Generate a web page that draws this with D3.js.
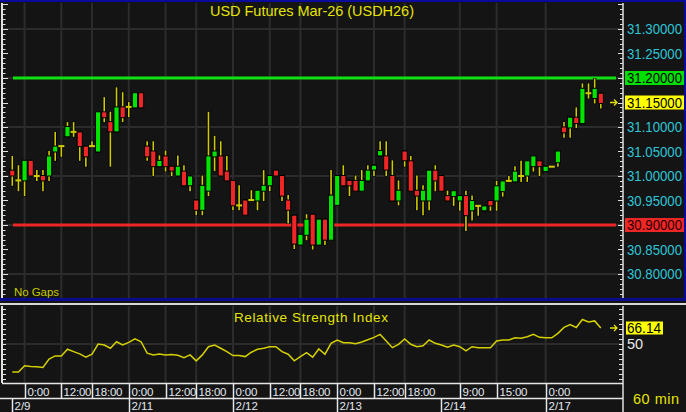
<!DOCTYPE html>
<html><head><meta charset="utf-8">
<script src="https://cdn.jsdelivr.net/npm/d3@7"></script>
<style>html,body{margin:0;padding:0;background:#151515;overflow:hidden}</style>
</head><body><svg id="c" width="686" height="412"></svg>
<script>
// ---------- DATA ----------
const opens =[31.012,30.991,30.990,31.032,31.000,31.001,31.000,31.049,31.061,31.080,31.090,31.090,31.061,31.061,31.049,31.131,31.111,31.090,31.141,31.141,31.139,31.170,31.061,31.051,31.019,31.041,31.020,31.000,31.010,30.980,30.951,30.930,30.969,31.039,31.041,31.010,30.991,30.940,30.951,30.951,30.949,30.969,30.980,31.012,31.001,30.951,30.920,30.859,30.879,30.922,30.859,30.912,30.869,30.940,31.001,30.991,30.991,30.969,30.990,31.012,31.041,31.041,31.001,30.949,31.051,31.031,30.971,30.949,30.949,31.012,31.001,30.960,30.958,30.949,30.960,30.929,30.939,30.929,30.950,30.949,30.968,30.990,30.988,31.000,31.000,31.019,31.031,31.009,31.019,31.027,31.100,31.098,31.120,31.107,31.169,31.158,31.169];
const highs =[31.041,31.022,31.032,31.032,31.012,31.012,31.051,31.090,31.061,31.110,31.110,31.090,31.061,31.071,31.131,31.161,31.131,31.181,31.171,31.151,31.170,31.170,31.071,31.071,31.042,31.052,31.020,31.042,31.022,31.000,30.951,31.001,31.131,31.082,31.071,31.041,30.991,30.981,30.951,30.971,30.971,31.012,31.001,31.012,31.001,30.961,30.920,30.881,30.922,30.922,30.912,30.912,31.012,31.001,31.022,30.991,31.001,31.012,31.022,31.022,31.071,31.071,31.032,30.991,31.051,31.041,31.001,30.981,31.012,31.022,31.001,30.970,30.970,30.960,30.970,30.960,30.939,30.939,30.950,30.990,30.990,31.000,31.020,31.031,31.031,31.041,31.031,31.020,31.019,31.051,31.110,31.120,31.140,31.189,31.189,31.199,31.169];
const lows  =[30.980,30.969,30.959,31.000,30.990,30.969,30.990,31.031,31.039,31.080,31.080,31.031,31.019,31.061,31.049,31.110,31.019,31.090,31.110,31.120,31.139,31.139,31.031,31.000,31.019,31.009,31.000,31.000,30.980,30.969,30.920,30.920,30.959,31.010,31.000,30.990,30.930,30.930,30.920,30.951,30.930,30.949,30.969,31.000,30.949,30.903,30.851,30.859,30.869,30.850,30.859,30.859,30.869,30.940,30.980,30.959,30.969,30.969,30.990,31.000,31.041,31.000,30.949,30.940,31.019,30.969,30.930,30.920,30.930,30.969,30.969,30.949,30.939,30.929,30.888,30.909,30.919,30.929,30.929,30.929,30.958,30.990,30.988,30.988,30.988,31.009,31.000,31.009,31.019,31.019,31.078,31.078,31.098,31.107,31.158,31.148,31.138];
const closes=[31.000,30.991,31.032,31.000,31.000,30.990,31.041,31.061,31.061,31.101,31.090,31.060,31.039,31.061,31.131,31.119,31.090,31.141,31.119,31.141,31.170,31.139,31.039,31.019,31.032,31.019,31.010,31.020,30.980,31.000,30.930,30.981,31.041,31.051,31.000,30.990,30.939,30.940,30.920,30.951,30.971,30.981,31.001,31.000,30.959,30.930,30.861,30.881,30.912,30.859,30.912,30.869,30.961,31.001,30.980,30.980,30.969,30.991,31.012,31.022,31.052,31.012,30.949,30.971,31.031,30.969,30.959,30.971,31.012,30.990,30.969,30.949,30.970,30.960,30.919,30.950,30.939,30.939,30.939,30.980,30.990,30.990,31.010,31.000,31.031,31.041,31.019,31.020,31.019,31.051,31.088,31.120,31.107,31.179,31.169,31.179,31.148];
const rsi   =[21.7,21.7,28.0,27.3,27.0,26.3,34.7,38.0,38.0,44.7,42.3,40.0,36.7,39.7,50.0,49.0,45.7,52.3,49.0,51.7,55.3,52.3,40.7,39.0,40.0,39.0,39.3,38.7,36.3,39.0,33.0,39.0,47.3,49.0,45.7,42.3,38.3,38.3,37.3,41.7,44.7,45.7,47.3,47.3,42.3,39.7,33.0,37.3,41.3,36.7,45.0,39.7,50.7,54.0,51.3,51.3,50.3,52.0,54.3,56.7,59.7,53.0,46.3,49.7,55.0,49.7,47.3,48.3,54.0,50.7,49.0,46.7,49.0,47.3,43.0,47.3,46.3,46.3,46.3,53.0,54.0,54.0,56.3,55.7,57.3,59.7,56.7,56.3,56.3,60.7,66.7,69.7,66.7,74.7,72.3,73.3,66.14];
const timeTickIdx   =[2,8,13,19,25,30,36,42,47,53,59,64,73,79,87];
const timeTickLabels=["0:00","12:00","18:00","0:00","12:00","18:00","0:00","12:00","18:00","0:00","12:00","18:00","9:00","15:00","0:00"];
const dateTickIdx   =[0,19,36,53,70,87];
const dateTickLabels=["2/9","2/11","2/12","2/13","2/14","2/17"];
const priceLabelTicks=[30.80,30.85,30.90,30.95,31.00,31.05,31.10,31.15,31.20,31.25,31.30];
const priceGridTicks =[30.80,30.90,31.00,31.10,31.20,31.30];
const resistanceLevel=31.20, supportLevel=30.90, lastPrice=31.15;
const rsiLabelTicks=[50], rsiLast=66.14;
const chartTitle="USD Futures Mar-26 (USDH26)";
const rsiTitle="Relative Strength Index";
const noteText="No Gaps", intervalText="60 min";

// ---------- LAYOUT ----------
const W=686,H=412;
const P={top:3,bottom:298,left:2,right:623};
const R={top:306,bottom:383};
const BG="#141414", GRID="#2c2c2c", WICK="#cfcb00", UP="#00e400", DN="#ee2626";
const svg=d3.select("#c");
svg.append("rect").attr("width",W).attr("height",H).attr("fill",BG);

const x=d3.scalePoint().domain(d3.range(closes.length)).range([12.3,600.8]);
const y=d3.scaleLinear().domain([supportLevel,resistanceLevel]).range([225,78]);
const yr=d3.scaleLinear().domain([50,rsiLast]).range([344,328]);
const fmt=d3.format(".5f");
const font="'Liberation Sans',Arial,sans-serif";

// frame
svg.append("rect").attr("x",0).attr("y",0).attr("width",W).attr("height",2).attr("fill","#0a0a9c");
svg.append("rect").attr("x",W-2).attr("y",0).attr("width",2).attr("height",300).attr("fill","#0a0a9c");
svg.append("rect").attr("x",0).attr("y",298).attr("width",W).attr("height",3).attr("fill","#0a0a8a");
svg.append("rect").attr("x",0).attr("y",303).attr("width",W).attr("height",2).attr("fill","#d8d8d8");

// grids price
const gP=svg.append("g");
gP.selectAll("line.h").data(priceGridTicks).join("line")
  .attr("x1",P.left).attr("x2",P.right).attr("y1",d=>y(d)).attr("y2",d=>y(d))
  .attr("stroke",GRID).attr("stroke-width",2);
gP.selectAll("line.v").data(timeTickIdx).join("line").attr("class","v")
  .attr("x1",d=>x(d)).attr("x2",d=>x(d)).attr("y1",P.top).attr("y2",P.bottom)
  .attr("stroke",GRID).attr("stroke-width",2);
// grids rsi
const gR=svg.append("g");
gR.selectAll("line.h").data(rsiLabelTicks).join("line")
  .attr("x1",P.left).attr("x2",P.right).attr("y1",d=>yr(d)).attr("y2",d=>yr(d))
  .attr("stroke",GRID).attr("stroke-width",2);
gR.selectAll("line.v").data(timeTickIdx).join("line").attr("class","v")
  .attr("x1",d=>x(d)).attr("x2",d=>x(d)).attr("y1",R.top).attr("y2",R.bottom)
  .attr("stroke",GRID).attr("stroke-width",2);

// level lines
svg.append("line").attr("x1",13).attr("x2",616).attr("y1",y(resistanceLevel)).attr("y2",y(resistanceLevel))
  .attr("stroke","#10e010").attr("stroke-width",3);
svg.append("line").attr("x1",13).attr("x2",616).attr("y1",y(supportLevel)).attr("y2",y(supportLevel))
  .attr("stroke","#ee2626").attr("stroke-width",3);

// candles
const idx=d3.range(closes.length);
const gC=svg.append("g");
gC.selectAll("line.wo").data(idx).join("line")
  .attr("x1",i=>x(i)).attr("x2",i=>x(i)).attr("y1",i=>y(highs[i])-0.5).attr("y2",i=>y(lows[i])+0.5)
  .attr("stroke","#000").attr("stroke-width",3.4);
gC.selectAll("line.w").data(idx).join("line").attr("class","w")
  .attr("x1",i=>x(i)).attr("x2",i=>x(i)).attr("y1",i=>y(highs[i])).attr("y2",i=>y(lows[i]))
  .attr("stroke",WICK).attr("stroke-width",1.6);
gC.selectAll("rect.b").data(idx).join("rect").attr("class","b")
  .attr("x",i=>x(i)-(opens[i]===closes[i]?3:2.6))
  .attr("width",i=>opens[i]===closes[i]?6:5.2)
  .attr("y",i=>opens[i]===closes[i]?y(opens[i])-1:y(Math.max(opens[i],closes[i])))
  .attr("height",i=>opens[i]===closes[i]?2:Math.max(2,Math.abs(y(opens[i])-y(closes[i]))))
  .attr("fill",i=>opens[i]===closes[i]?WICK:(closes[i]>opens[i]?UP:DN))
  .attr("stroke",i=>opens[i]===closes[i]?"none":"#000").attr("stroke-width",1);

// axes price: left & right
function ticksRange(a,b,s){const r=[];for(let v=a;v<=b+1e-9;v+=s)r.push(+v.toFixed(3));return r;}
const pMinor=ticksRange(30.76,31.35,0.01);
const isMajor=v=>Math.abs(Math.round(v*20)-v*20)<1e-6;
svg.append("line").attr("x1",2).attr("x2",2).attr("y1",P.top).attr("y2",P.bottom).attr("stroke","#e0e0e0").attr("stroke-width",2);
svg.append("g").selectAll("line").data(pMinor).join("line")
  .attr("x1",2).attr("x2",d=>isMajor(d)?8:5.5).attr("y1",d=>Math.round(y(d))+0.5).attr("y2",d=>Math.round(y(d))+0.5)
  .attr("stroke","#e0e0e0").attr("stroke-width",1);
svg.append("line").attr("x1",P.right).attr("x2",P.right).attr("y1",P.top).attr("y2",P.bottom).attr("stroke","#e0e0e0").attr("stroke-width",1.5);
svg.append("g").selectAll("line").data(pMinor).join("line")
  .attr("x1",d=>isMajor(d)?P.right-5:P.right-3).attr("x2",P.right).attr("y1",d=>Math.round(y(d))+0.5).attr("y2",d=>Math.round(y(d))+0.5)
  .attr("stroke","#e0e0e0").attr("stroke-width",1);

// price labels
const special={};
special[fmt(resistanceLevel)]={bg:"#00e000",fg:"#000"};
special[fmt(supportLevel)]={bg:"#ee2626",fg:"#2a0000"};
const gL=svg.append("g").attr("font-family",font).attr("font-size",14.5);
priceLabelTicks.filter(v=>Math.abs(v-lastPrice)>1e-6).forEach(v=>{
  const s=special[fmt(v)];
  if(s) gL.append("rect").attr("x",625).attr("y",y(v)-7).attr("width",59).attr("height",14).attr("fill",s.bg);
  gL.append("text").attr("x",627).attr("y",y(v)).attr("dy","0.36em").attr("textLength",55).attr("lengthAdjust","spacingAndGlyphs")
    .attr("fill",s?s.fg:"#2ec4d6").text(fmt(v));
});
gL.append("rect").attr("x",625).attr("y",y(lastPrice)-7).attr("width",59).attr("height",14).attr("fill","#ffff00");
gL.append("text").attr("x",627).attr("y",y(lastPrice)).attr("dy","0.36em").attr("textLength",55).attr("lengthAdjust","spacingAndGlyphs")
  .attr("fill","#000").text(fmt(lastPrice));
function arrow(cx,cy){
  svg.append("path").attr("d",`M${cx-4},${cy}H${cx+3}M${cx},${cy-3}L${cx+3},${cy}L${cx},${cy+3}`)
    .attr("stroke","#e0e000").attr("stroke-width",1.3).attr("fill","none");
}
arrow(614,y(lastPrice));

// titles
svg.append("text").attr("x",312).attr("y",16).attr("text-anchor","middle").attr("font-family",font).attr("font-size",14.5)
  .attr("fill","#e4e400").attr("textLength",204).attr("lengthAdjust","spacing").text(chartTitle);
svg.append("text").attr("x",14).attr("y",296).attr("font-family",font).attr("font-size",11.5)
  .attr("fill","#c8c800").attr("textLength",45).attr("lengthAdjust","spacing").text(noteText);

// RSI pane
const rMinor=d3.range(15,90,5).filter(v=>yr(v)>=R.top&&yr(v)<=R.bottom);
svg.append("line").attr("x1",2).attr("x2",2).attr("y1",R.top).attr("y2",R.bottom).attr("stroke","#e0e0e0").attr("stroke-width",2);
svg.append("g").selectAll("line").data(rMinor).join("line")
  .attr("x1",2).attr("x2",6).attr("y1",d=>Math.round(yr(d))+0.5).attr("y2",d=>Math.round(yr(d))+0.5)
  .attr("stroke","#e0e0e0").attr("stroke-width",1);
svg.append("line").attr("x1",P.right).attr("x2",P.right).attr("y1",R.top).attr("y2",H).attr("stroke","#e0e0e0").attr("stroke-width",1.5);
svg.append("g").selectAll("line").data(rMinor).join("line")
  .attr("x1",P.right-4).attr("x2",P.right).attr("y1",d=>Math.round(yr(d))+0.5).attr("y2",d=>Math.round(yr(d))+0.5)
  .attr("stroke","#e0e0e0").attr("stroke-width",1);
svg.append("path").datum(rsi).attr("fill","none").attr("stroke","#d4d000").attr("stroke-width",1.5)
  .attr("d",d3.line().x((d,i)=>x(i)).y(d=>yr(d)));
svg.append("text").attr("x",311).attr("y",322).attr("text-anchor","middle").attr("font-family",font).attr("font-size",13.5)
  .attr("fill","#e4e400").attr("textLength",154).attr("lengthAdjust","spacing").text(rsiTitle);
svg.append("rect").attr("x",626).attr("y",yr(rsiLast)-6.5).attr("width",37).attr("height",13).attr("fill","#ffff00");
svg.append("text").attr("x",627).attr("y",yr(rsiLast)).attr("dy","0.36em").attr("font-family",font).attr("font-size",14.5)
  .attr("textLength",34).attr("lengthAdjust","spacingAndGlyphs").attr("fill","#000").text(d3.format(".2f")(rsiLast));
rsiLabelTicks.forEach(v=>{
  svg.append("text").attr("x",627).attr("y",yr(v)).attr("dy","0.36em").attr("font-family",font).attr("font-size",14.5)
    .attr("fill","#e8e8e8").text(v);
});
arrow(614,yr(rsiLast));

// time axis
const AX="#e6e6e6";
svg.append("line").attr("x1",2).attr("x2",P.right).attr("y1",383.5).attr("y2",383.5).attr("stroke",AX).attr("stroke-width",1.5);
svg.append("line").attr("x1",0).attr("x2",P.right).attr("y1",398.5).attr("y2",398.5).attr("stroke",AX).attr("stroke-width",1.5);
const gT=svg.append("g").attr("font-family",font).attr("font-size",11.5).attr("fill","#e4e8f0");
timeTickIdx.forEach((t,k)=>{
  const xx=Math.round(x(t))+0.5;
  gT.append("line").attr("x1",xx).attr("x2",xx).attr("y1",384).attr("y2",398).attr("stroke",AX).attr("stroke-width",1.5);
  gT.append("text").attr("x",xx+2).attr("y",396).attr("letter-spacing",-0.2).text(timeTickLabels[k]);
});
dateTickIdx.forEach((t,k)=>{
  const xx=Math.round(x(t))+0.5;
  gT.append("line").attr("x1",xx).attr("x2",xx).attr("y1",398).attr("y2",H).attr("stroke",AX).attr("stroke-width",1.5);
  gT.append("text").attr("x",xx+2).attr("y",410).text(dateTickLabels[k]);
});
svg.append("text").attr("x",633).attr("y",404).attr("font-family",font).attr("font-size",14.5)
  .attr("fill","#e4e400").attr("textLength",46).attr("lengthAdjust","spacing").text(intervalText);
</script></body></html>
